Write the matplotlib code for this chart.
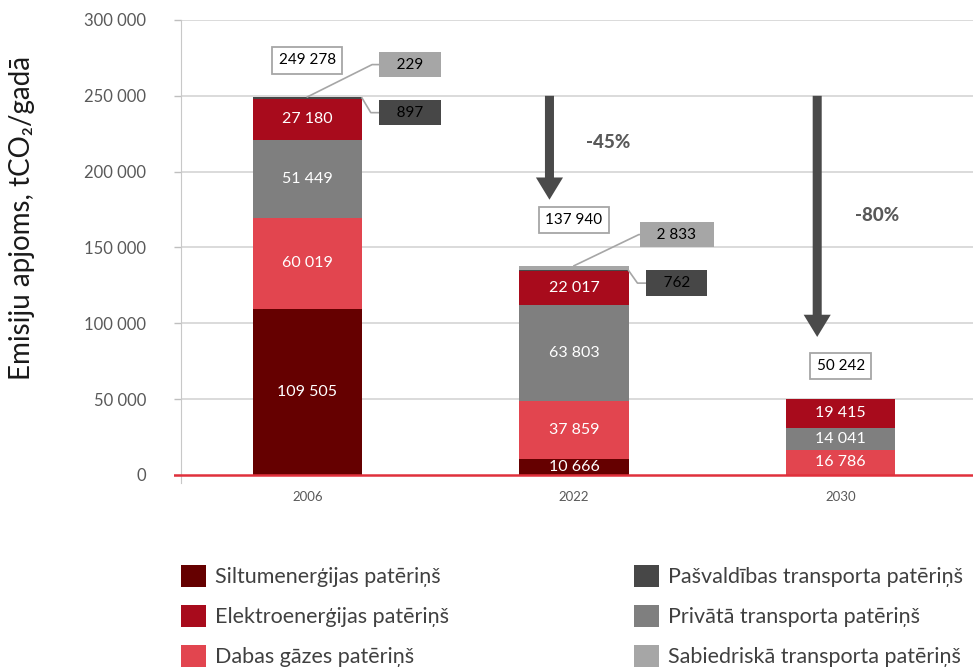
#!/usr/bin/env python3
"""Stacked emissions bars 2006 / 2022 / 2030 with reduction arrows."""

import matplotlib.pyplot as plt
from matplotlib.patches import Patch
from matplotlib.ticker import FuncFormatter

# =========================== DATA ================================== #

YEARS = ["2006", "2022", "2030"]

SILTUM = [109505, 10666, 0]
DABAS = [60019, 37859, 16786]
PRIVATA = [51449, 63803, 14041]
ELEKTRO = [27180, 22017, 19415]
PASVALDIBAS = [897, 762, 0]
SABIEDRISKA = [229, 2833, 0]
TOTALS = [249278, 137940, 50242]

# arrows: (start value, end value, label)
ARROW_FROM = [250000, 250000]
ARROW_TO = [181500, 91000]
ARROW_LABELS = ["-45%", "-80%"]

SERIES = [
    ("Siltumenerģijas patēriņš", SILTUM, "#650000"),
    ("Dabas gāzes patēriņš", DABAS, "#e2454f"),
    ("Privātā transporta patēriņš", PRIVATA, "#7f7f7f"),
    ("Elektroenerģijas patēriņš", ELEKTRO, "#a80b1c"),
    ("Pašvaldības transporta patēriņš", PASVALDIBAS, "#474747"),
    ("Sabiedriskā transporta patēriņš", SABIEDRISKA, "#a6a6a6"),
]
LEGEND_LEFT = [0, 3, 1]
LEGEND_RIGHT = [4, 2, 5]

# =========================== STYLE ================================= #

plt.rcParams["font.family"] = ["Lato", "DejaVu Sans"]

W, H = 973, 668
TICK_GREY = "#595959"
GRID_GREY = "#d4d4d4"
ZERO_RED = "#e0303c"
BAR_W = 0.41


def fmt(v):
    return f"{int(v):,}".replace(",", " ")


def main():
    fig = plt.figure(figsize=(W / 100, H / 100), dpi=100)
    ax = fig.add_axes([174 / W, 1 - 483 / H, 800 / W, (483 - 20) / H])

    x = range(len(YEARS))
    bottoms = [0] * len(YEARS)
    for name, vals, color in SERIES:
        ax.bar(x, vals, BAR_W, bottom=bottoms, color=color,
               linewidth=0, zorder=2)
        big = name not in ("Pašvaldības transporta patēriņš",
                           "Sabiedriskā transporta patēriņš")
        if big:
            for i, v in enumerate(vals):
                if v > 0:
                    ax.text(i, bottoms[i] + v / 2, fmt(v), color="white",
                            ha="center", va="center", fontsize=11.5,
                            zorder=4)
        bottoms = [b + v for b, v in zip(bottoms, vals)]

    ax.set_xlim(-0.5, 2.5)
    ax.set_ylim(-5300, 300000)

    # grid + zero line
    yt = list(range(0, 300001, 50000))
    ax.hlines(yt[1:], -0.474, 2.5, color=GRID_GREY, lw=1.2, zorder=1)
    ax.axhline(0, color=ZERO_RED, lw=1.8, zorder=5)

    ax.set_yticks(yt)
    ax.yaxis.set_major_formatter(FuncFormatter(lambda v, p: fmt(v)))
    ax.tick_params(axis="y", length=5, width=1, color="#bfbfbf",
                   labelcolor=TICK_GREY, labelsize=12, pad=20)
    ax.get_yticklines()[0].set_color(ZERO_RED)
    ax.get_yticklines()[0].set_markeredgewidth(1.6)
    ax.set_xticks(list(x))
    ax.set_xticklabels(YEARS)
    ax.tick_params(axis="x", length=0, labelsize=9.5,
                   labelcolor=TICK_GREY, pad=6)

    for s in ("top", "right", "bottom"):
        ax.spines[s].set_visible(False)
    ax.spines["left"].set_position(("axes", 7 / 800))
    ax.spines["left"].set_color("#c8c8c8")

    # totals
    total_y = [273500, 168100, 71800]
    for i, t in enumerate(TOTALS):
        ax.text(i, total_y[i], fmt(t), ha="center", va="center",
                fontsize=11, color="black", zorder=6,
                bbox=dict(boxstyle="square,pad=0.42", fc="white",
                          ec="#a6a6a6", lw=1.3))

    # small callouts (top two segments)
    callouts = [
        (SABIEDRISKA, "#a6a6a6", [270600, 158500], 0.0, "top"),
        (PASVALDIBAS, "#474747", [238900, 126500], 0.205, "mid"),
    ]
    for vals, color, ys, x0, where in callouts:
        for i, v in enumerate(vals):
            if v <= 0:
                continue
            base = SILTUM[i] + DABAS[i] + PRIVATA[i] + ELEKTRO[i]
            if where == "top":
                y0 = TOTALS[i]
                elbow = 0.243
            else:
                y0 = base + PASVALDIBAS[i] / 2
                elbow = 0.238
            ax.plot([i + x0, i + elbow, i + 0.273], [y0, ys[i], ys[i]],
                    color="#a6a6a6", lw=1.2, zorder=3)
            ax.text(i + 0.385, ys[i], f"   {fmt(v)}   ", ha="center",
                    va="center", fontsize=11, color="black", zorder=6,
                    bbox=dict(boxstyle="square,pad=0.38", fc=color,
                              ec="none"))

    # reduction arrows
    arrow_x = [0.908, 1.912]
    label_pos = [(1.127, 219500), (2.135, 171400)]
    for k in range(len(ARROW_LABELS)):
        ax.annotate("", xy=(arrow_x[k], ARROW_TO[k]),
                    xytext=(arrow_x[k], ARROW_FROM[k]),
                    arrowprops=dict(width=6.5, headwidth=19.5,
                                    headlength=16, shrink=0,
                                    color="#4a4a4a", lw=0),
                    zorder=6)
        ax.text(*label_pos[k], ARROW_LABELS[k], ha="center", va="center",
                fontsize=13.5, fontweight="black", color=TICK_GREY)

    fig.text(22 / W, 1 - 218 / H, "Emisiju apjoms, tCO₂/gadā",
             rotation=90, ha="center", va="center", fontsize=20,
             color="#1a1a1a")

    # legend, two columns
    for idxs, left in ((LEGEND_LEFT, 181), (LEGEND_RIGHT, 634)):
        handles = [Patch(facecolor=SERIES[j][2], edgecolor="none",
                         label=SERIES[j][0]) for j in idxs]
        fig.legend(handles=handles, loc="upper left",
                   bbox_to_anchor=(left / W, 1 - 565 / H),
                   frameon=False, fontsize=15.5, borderpad=0,
                   borderaxespad=0, handlelength=1.17, handleheight=1.17,
                   handletextpad=0.42, labelspacing=0.84,
                   labelcolor="#404040")

    fig.savefig("out.png", dpi=100)


if __name__ == "__main__":
    main()
